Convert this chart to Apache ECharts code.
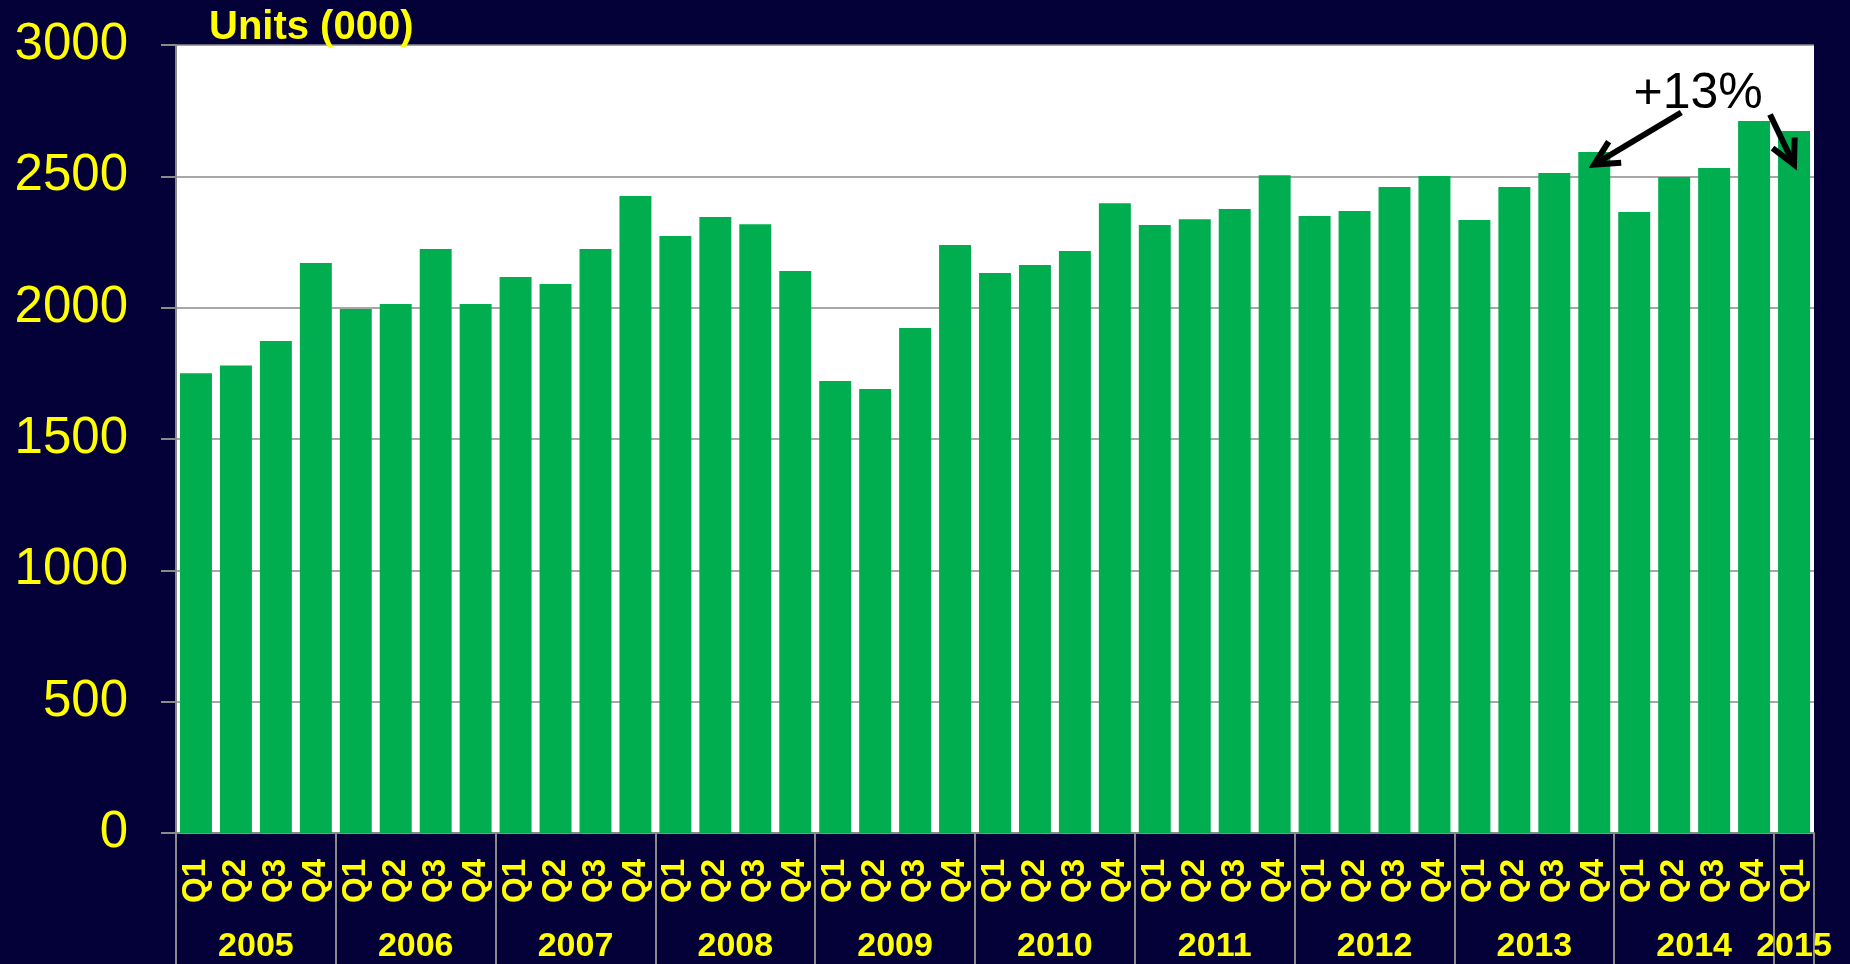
<!DOCTYPE html>
<html>
<head>
<meta charset="utf-8">
<title>Units (000)</title>
<script src="https://cdn.jsdelivr.net/npm/echarts@6/dist/echarts.min.js"></script>
<style>
  html, body { margin: 0; padding: 0; background: #040038; }
  #chart { width: 1850px; height: 964px; }
</style>
</head>
<body>
<div id="chart"></div>
<script>
  // 数据
  var quarters = ['Q1', 'Q2', 'Q3', 'Q4']
  var years = ['2005', '2006', '2007', '2008', '2009', '2010', '2011', '2012', '2013', '2014', '2015']
  var quartersPerYear = [4, 4, 4, 4, 4, 4, 4, 4, 4, 4, 1]
  var units = [
    1750, 1780, 1873, 2170,
    1995, 2014, 2223, 2014,
    2117, 2090, 2223, 2425,
    2273, 2345, 2318, 2140,
    1721, 1690, 1923, 2239,
    2132, 2162, 2216, 2398,
    2315, 2337, 2376, 2504,
    2349, 2368, 2459, 2501,
    2334, 2459, 2513, 2593,
    2364, 2497, 2532, 2711,
    2673
  ]
  var yTicks = [0, 500, 1000, 1500, 2000, 2500, 3000]
  var annotText = '+13%'
  var annotFrom = '2013 Q4'
  var annotTo = '2015 Q1'
  var annotLevel = 2545

  var font = '"Liberation Sans", Arial, sans-serif'
  var yellow = '#ffff00'
  var gray = '#8a8a8a'

  // x轴类目 + 年份分隔/标签位置
  var categories = []
  var yearBreaks = [0]
  var yearCenters = []
  var pos = 0
  years.forEach(function (y, i) {
    var n = quartersPerYear[i]
    for (var q = 0; q < n; q++) categories.push(y + ' ' + quarters[q])
    yearCenters.push(pos + n / 2)
    pos += n
    yearBreaks.push(pos)
  })

  var chart = echarts.init(document.getElementById('chart'))
  var option = {
    backgroundColor: '#040038',
    animation: false,
    title: {
      text: 'Units (000)',
      left: 204,
      top: 3,
      textStyle: { color: yellow, fontFamily: font, fontWeight: 'bold', fontSize: 40 }
    },
    grid: {
      left: 176, top: 45, right: 36, bottom: 131,
      show: true, backgroundColor: '#ffffff', borderWidth: 0
    },
    xAxis: [
      {
        type: 'category',
        data: categories,
        axisLine: { lineStyle: { color: gray, width: 2 } },
        axisTick: { length: 71, lineStyle: { color: gray, width: 2 } },
        axisLabel: {
          interval: 0,
          rotate: 90,
          margin: 26,
          color: yellow,
          fontFamily: font,
          fontWeight: 'bold',
          fontSize: 33,
          formatter: function (v) { return v.split(' ')[1] }
        }
      },
      {
        type: 'value',
        position: 'bottom',
        min: 0,
        max: categories.length,
        axisLine: { show: false },
        splitLine: { show: false },
        axisTick: {
          show: true,
          length: 131,
          customValues: yearBreaks,
          lineStyle: { color: gray, width: 2 }
        },
        axisLabel: {
          show: true,
          margin: 97,
          customValues: yearCenters,
          color: yellow,
          fontFamily: font,
          fontWeight: 'bold',
          fontSize: 34,
          formatter: function (v) { return years[yearCenters.indexOf(v)] }
        }
      }
    ],
    yAxis: {
      type: 'value',
      min: yTicks[0],
      max: yTicks[yTicks.length - 1],
      interval: 500,
      axisLine: { show: true, lineStyle: { color: gray, width: 2 } },
      axisTick: { show: true, length: 15, lineStyle: { color: gray, width: 2 } },
      axisLabel: {
        margin: 48, color: yellow, fontFamily: font, fontSize: 51,
        formatter: function (v) { return String(v) }
      },
      splitLine: { lineStyle: { color: gray, width: 1.5 } }
    },
    series: [
      {
        type: 'bar',
        data: units,
        barCategoryGap: '20%',
        itemStyle: { color: '#00ae50' }
      }
    ]
  }
  chart.setOption(option)

  // +13% 标注箭头
  function arrow(from, tip) {
    var ang = Math.atan2(from[1] - tip[1], from[0] - tip[0])
    var len = 27, spread = 27 * Math.PI / 180
    var a1 = [tip[0] + len * Math.cos(ang + spread), tip[1] + len * Math.sin(ang + spread)]
    var a2 = [tip[0] + len * Math.cos(ang - spread), tip[1] + len * Math.sin(ang - spread)]
    var style = { stroke: '#000', lineWidth: 6, fill: null }
    return [
      { type: 'polyline', shape: { points: [from, tip] }, style: style, z: 100 },
      { type: 'polyline', shape: { points: [a1, tip, a2] }, style: style, z: 100 }
    ]
  }
  var tip1 = chart.convertToPixel({ xAxisIndex: 0, yAxisIndex: 0 }, [categories.indexOf(annotFrom), annotLevel])
  var tip2 = chart.convertToPixel({ xAxisIndex: 0, yAxisIndex: 0 }, [categories.indexOf(annotTo), annotLevel])
  var elements = []
    .concat(arrow([tip1[0] + 87, tip1[1] - 52], tip1))
    .concat(arrow([tip2[0] - 24, tip2[1] - 50], tip2))
  elements.push({
    type: 'text',
    x: (tip1[0] + tip2[0]) / 2 + 4,
    y: tip1[1] - 70,
    style: {
      text: annotText, fill: '#000', font: '50px ' + font,
      align: 'center', verticalAlign: 'middle'
    },
    z: 100
  })
  chart.setOption({ graphic: { elements: elements } })
</script>
</body>
</html>
